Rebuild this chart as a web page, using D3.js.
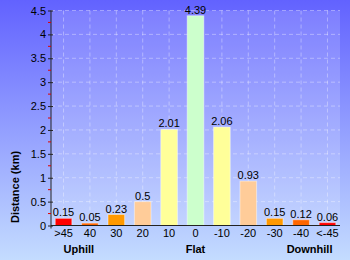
<!DOCTYPE html>
<html>
<head>
<meta charset="utf-8">
<script src="https://cdn.jsdelivr.net/npm/d3@7"></script>
<style>
    body { margin: 0; padding: 0; }
    svg { display: block; font-family: "Liberation Sans", Arial, sans-serif; }
    .grid line { stroke: #ffffff; stroke-opacity: 0.35; stroke-dasharray: 4, 3; }
    .axis path, .axis line { stroke: #222; }
    .axis text { font-size: 11px; fill: #000; }
    .value-label { font-size: 11px; fill: #000; text-anchor: middle; }
    .group-label { font-size: 11px; font-weight: bold; fill: #000; }
</style>
</head>
<body>
<div id="chart"></div>
<script>
// data
var categories = [">45", "40", "30", "20", "10", "0", "-10", "-20", "-30", "-40", "<-45"];
var distances = [0.15, 0.05, 0.23, 0.5, 2.01, 4.39, 2.06, 0.93, 0.15, 0.12, 0.06];
var yTicks = [0, 0.5, 1, 1.5, 2, 2.5, 3, 3.5, 4, 4.5];
var yMinorTicks = [0.25, 0.75, 1.25, 1.75, 2.25, 2.75, 3.25, 3.75, 4.25];
var groupLabels = ["Uphill", "Flat", "Downhill"];
var yTitle = "Distance (km)";

var dimensions = {
    width: 350,
    height: 260,
    margins: { top: 10.5, right: 10, bottom: 34.5, left: 51 }
};
var graph = {
    width: dimensions.width - dimensions.margins.left - dimensions.margins.right,
    height: dimensions.height - dimensions.margins.top - dimensions.margins.bottom
};

var svg = d3.select("#chart").append("svg")
    .attr("width", dimensions.width)
    .attr("height", dimensions.height);

//background gradients
var defs = svg.append("defs");
var bg = defs.append("linearGradient").attr("id", "bg")
    .attr("x1", 0).attr("y1", 0).attr("x2", 0).attr("y2", 1);
bg.append("stop").attr("offset", "0%").attr("stop-color", "#6262ff");
bg.append("stop").attr("offset", "100%").attr("stop-color", "#c4dcff");

svg.append("rect")
    .attr("width", dimensions.width)
    .attr("height", dimensions.height)
    .attr("fill", "url(#bg)");

var container = svg.append("g")
    .attr("transform", `translate(${dimensions.margins.left}, ${dimensions.margins.top})`);

//plot area, a little lighter than the rest
container.append("rect")
    .attr("width", graph.width)
    .attr("height", graph.height)
    .attr("fill", "#ffffff")
    .attr("fill-opacity", 0.16);

var xScale = d3.scaleBand()
    .domain(categories)
    .range([0, graph.width])
    .paddingInner(0.37)
    .paddingOuter(0.16);

var yScale = d3.scaleLinear()
    .domain([0, 4.5])
    .range([graph.height, 0]);

var colour = d3.scaleOrdinal()
    .domain(categories)
    .range(["#ff0000", "#ff6600", "#ff9900", "#ffcc99", "#ffff99", "#ccffcc",
            "#ffff99", "#ffcc99", "#ff9900", "#ff6600", "#ff0000"]);

//grid lines
var grid = container.append("g").attr("class", "grid");
grid.selectAll(".hgrid")
    .data(yTicks.filter(d => d > 0))
    .enter()
    .append("line")
    .attr("x1", 0)
    .attr("x2", graph.width)
    .attr("y1", d => yScale(d))
    .attr("y2", d => yScale(d));
grid.selectAll(".vgrid")
    .data(categories)
    .enter()
    .append("line")
    .attr("x1", d => xScale(d) + xScale.bandwidth() / 2)
    .attr("x2", d => xScale(d) + xScale.bandwidth() / 2)
    .attr("y1", 0)
    .attr("y2", graph.height);

//bars
container.selectAll(".bar")
    .data(categories)
    .enter()
    .append("rect")
    .attr("class", "bar")
    .attr("x", d => xScale(d))
    .attr("width", xScale.bandwidth())
    .attr("y", (d, i) => yScale(distances[i]))
    .attr("height", (d, i) => graph.height - yScale(distances[i]))
    .attr("fill", d => colour(d))
    .attr("stroke", "#ffffff")
    .attr("stroke-opacity", 0.45)
    .attr("stroke-width", 1);

container.selectAll(".value-label")
    .data(categories)
    .enter()
    .append("text")
    .attr("class", "value-label")
    .attr("x", d => xScale(d) + xScale.bandwidth() / 2)
    .attr("y", (d, i) => yScale(distances[i]) - 2)
    .text((d, i) => distances[i]);

//axes
var yAxis = container.append("g")
    .attr("class", "axis")
    .call(d3.axisLeft(yScale).tickValues(yTicks).tickSize(3).tickPadding(2).tickFormat(d3.format("")));
yAxis.select(".domain").attr("d", `M0,0V${graph.height + 3}`);
yAxis.selectAll(".tick line").attr("x2", 2).attr("x1", -3);

container.selectAll(".minor")
    .data(yMinorTicks)
    .enter()
    .append("line")
    .attr("x1", -3)
    .attr("x2", 0)
    .attr("y1", d => yScale(d))
    .attr("y2", d => yScale(d))
    .attr("stroke", "#dd0000");

var xAxis = container.append("g")
    .attr("class", "axis")
    .attr("transform", `translate(0, ${graph.height})`)
    .call(d3.axisBottom(xScale).tickSize(0).tickPadding(4));
xAxis.select(".domain").attr("d", `M0,0H${graph.width}`);

//group labels under the axis
var first = categories[0], flat = categories[5], last = categories[categories.length - 1];
container.append("text")
    .attr("class", "group-label")
    .attr("x", xScale(first) + xScale.bandwidth() / 2)
    .attr("y", graph.height + 27.5)
    .attr("text-anchor", "start")
    .text(groupLabels[0]);
container.append("text")
    .attr("class", "group-label")
    .attr("x", xScale(flat) + xScale.bandwidth() / 2)
    .attr("y", graph.height + 27.5)
    .attr("text-anchor", "middle")
    .text(groupLabels[1]);
container.append("text")
    .attr("class", "group-label")
    .attr("x", xScale(last) + xScale.bandwidth() / 2 + 5)
    .attr("y", graph.height + 27.5)
    .attr("text-anchor", "end")
    .text(groupLabels[2]);

//y title
svg.append("text")
    .attr("class", "group-label")
    .attr("transform", "translate(19, 187) rotate(-90)")
    .attr("text-anchor", "middle")
    .text(yTitle);
</script>
</body>
</html>
